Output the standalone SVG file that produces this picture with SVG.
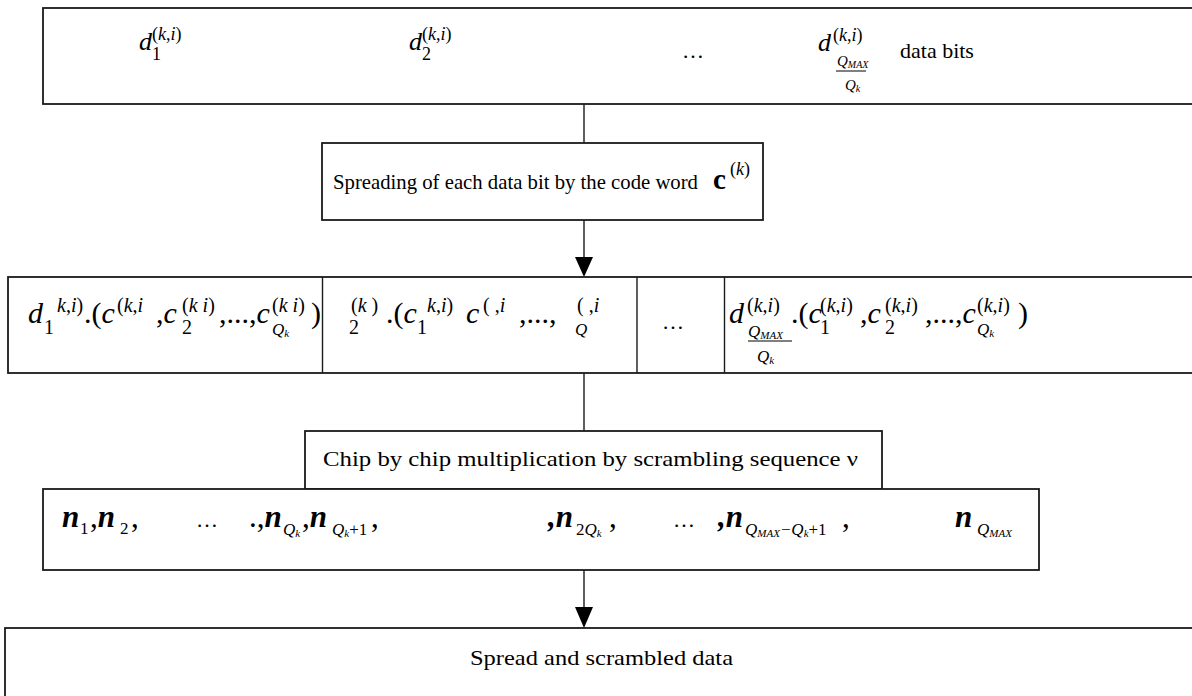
<svg xmlns="http://www.w3.org/2000/svg" width="1192" height="696" viewBox="0 0 1192 696">
<defs>
<style>
text { font-family: "Liberation Serif", "Times New Roman", serif; fill: #000; }
.box { fill: #fff; stroke: #1a1a1a; stroke-width: 1.8; }
.ln { stroke: #1a1a1a; stroke-width: 1.4; fill: none; }
.it { font-style: italic; }
.bi { font-style: italic; font-weight: bold; }
.t1 { font-size: 26px; }
.s1 { font-size: 18px; }
.s1q { font-size: 15px; }
.t3 { font-size: 30px; }
.s3 { font-size: 20px; }
.s3q { font-size: 17px; }
.s3k { font-size: 11px; }
.tn { font-size: 31px; }
.sn { font-size: 17px; }
.lab { font-size: 22px; }
.dots { font-size: 22px; }
</style>
</defs>

<g id="connectors">
<line class="ln" x1="584" y1="104" x2="584" y2="143"/>
<line class="ln" x1="584" y1="220" x2="584" y2="257"/>
<path d="M575,257 L593,257 L584,277 Z" fill="#000"/>
<line class="ln" x1="584" y1="373" x2="584" y2="431"/>
<line class="ln" x1="584" y1="570" x2="584" y2="608"/>
<path d="M575,607 L593,607 L584,628 Z" fill="#000"/>
</g>

<g id="data-bits">
<rect class="box" x="43" y="8" width="1160" height="96"/>
<text class="t1 it" x="139" y="50">d</text>
<text class="s1" x="152" y="60">1</text>
<text class="s1" x="152" y="40">(<tspan class="it">k</tspan>,<tspan class="it">i</tspan>)</text>
<text class="t1 it" x="409" y="50">d</text>
<text class="s1" x="422" y="60">2</text>
<text class="s1" x="422" y="40">(<tspan class="it">k</tspan>,<tspan class="it">i</tspan>)</text>
<text class="dots" x="682" y="58">…</text>
<text class="t1 it" x="818" y="51">d</text>
<text class="s1" x="833" y="41">(<tspan class="it">k</tspan>,<tspan class="it">i</tspan>)</text>
<text class="s1q it" x="837" y="66">Q<tspan font-size="10" dy="2">MAX</tspan></text>
<line x1="836" y1="71" x2="866" y2="71" stroke="#000" stroke-width="1"/>
<text class="s1q it" x="845" y="90">Q<tspan font-size="10" dy="2">k</tspan></text>
<text class="lab" x="900" y="58">data bits</text>
</g>

<g id="spreading">
<rect class="box" x="322" y="143" width="441" height="77"/>
<text x="333" y="189" font-size="21" textLength="365" lengthAdjust="spacingAndGlyphs">Spreading of each data bit by the code word</text>
<text x="713" y="189" font-size="29" font-weight="bold">c</text>
<text class="s1" x="730" y="175">(<tspan class="it">k</tspan>)</text>
</g>

<g id="spread-row">
<rect class="box" x="8" y="277" width="1190" height="96"/>
<line class="ln" x1="322.5" y1="277" x2="322.5" y2="373"/>
<line class="ln" x1="637" y1="277" x2="637" y2="373"/>
<line class="ln" x1="724.5" y1="277" x2="724.5" y2="373"/>
<!-- cell 1 -->
<text class="t3 it" x="28" y="323">d</text>
<text class="s3" x="44" y="334">1</text>
<text class="s3" x="57" y="312"><tspan class="it">k</tspan>,<tspan class="it">i</tspan>)</text>
<text class="t3" x="84" y="323">.(<tspan class="it">c</tspan></text>
<text class="s3" x="117" y="312">(<tspan class="it">k</tspan>,<tspan class="it">i</tspan></text>
<text class="t3" x="156" y="323">,<tspan class="it">c</tspan></text>
<text class="s3" x="182" y="334">2</text>
<text class="s3" x="182" y="312">(<tspan class="it">k</tspan> <tspan class="it">i</tspan>)</text>
<text class="t3" x="219" y="323">,...,<tspan class="it">c</tspan></text>
<text class="s3q it" x="272" y="335">Q<tspan class="s3k" dy="2">k</tspan></text>
<text class="s3" x="272" y="312">(<tspan class="it">k</tspan> <tspan class="it">i</tspan>)</text>
<text class="t3" x="311" y="323">)</text>
<!-- cell 2 -->
<text class="s3" x="349" y="334">2</text>
<text class="s3" x="351" y="312">(<tspan class="it">k</tspan>   )</text>
<text class="t3" x="386" y="323">.(<tspan class="it">c</tspan></text>
<text class="s3" x="417" y="334">1</text>
<text class="s3" x="427" y="312"><tspan class="it">k</tspan>,<tspan class="it">i</tspan>)</text>
<text class="t3 it" x="466" y="323">c</text>
<text class="s3" x="483" y="312">(  ,<tspan class="it">i</tspan></text>
<text class="t3" x="519" y="323">,...,</text>
<text class="s3" x="577" y="312">(  ,<tspan class="it">i</tspan></text>
<text class="s3q it" x="575" y="335">Q</text>
<!-- cell 3 -->
<text class="dots" x="662" y="329">…</text>
<!-- cell 4 -->
<text class="t3 it" x="729" y="323">d</text>
<text class="s3" x="747" y="312">(<tspan class="it">k</tspan>,<tspan class="it">i</tspan>)</text>
<text class="s3q it" x="748" y="337">Q<tspan font-size="11" dy="2">MAX</tspan></text>
<line x1="748" y1="341" x2="792" y2="341" stroke="#000" stroke-width="1"/>
<text class="s3q it" x="757" y="362">Q<tspan class="s3k" dy="2">k</tspan></text>
<text class="t3" x="791" y="323">.(<tspan class="it">c</tspan></text>
<text class="s3" x="820" y="334">1</text>
<text class="s3" x="820" y="312">(<tspan class="it">k</tspan>,<tspan class="it">i</tspan>)</text>
<text class="t3" x="860" y="323">,<tspan class="it">c</tspan></text>
<text class="s3" x="885" y="334">2</text>
<text class="s3" x="885" y="312">(<tspan class="it">k</tspan>,<tspan class="it">i</tspan>)</text>
<text class="t3" x="925" y="323">,...,<tspan class="it">c</tspan></text>
<text class="s3q it" x="977" y="335">Q<tspan class="s3k" dy="2">k</tspan></text>
<text class="s3" x="977" y="312">(<tspan class="it">k</tspan>,<tspan class="it">i</tspan>)</text>
<text class="t3" x="1018" y="323">)</text>
</g>

<g id="chip">
<rect class="box" x="305" y="431" width="577" height="58"/>
<text class="lab" x="323" y="466" font-size="24" textLength="535" lengthAdjust="spacingAndGlyphs">Chip by chip multiplication by scrambling sequence ν</text>
</g>

<g id="scrambling-seq">
<rect class="box" x="43" y="489" width="996" height="81"/>
<text class="tn bi" x="62" y="527">n</text>
<text class="sn" x="80" y="534">1</text>
<text class="tn" x="90" y="527">,<tspan class="bi">n</tspan></text>
<text class="sn" x="120" y="534">2</text>
<text class="tn" x="131" y="527">,</text>
<text class="dots" x="196" y="527">…</text>
<text class="tn" x="249" y="527">.,<tspan class="bi">n</tspan></text>
<text class="sn it" x="283" y="535">Q<tspan font-size="11" dy="2">k</tspan></text>
<text class="tn" x="302" y="527">,<tspan class="bi">n</tspan></text>
<text class="sn" x="332" y="535"><tspan class="it">Q</tspan><tspan font-size="11" class="it" dy="2">k</tspan><tspan dy="-2">+1</tspan></text>
<text class="tn" x="371" y="527">,</text>
<text class="tn bi" x="548" y="527">,n</text>
<text class="sn" x="576" y="535">2<tspan class="it">Q</tspan><tspan font-size="11" class="it" dy="2">k</tspan></text>
<text class="tn" x="609" y="527">,</text>
<text class="dots" x="673" y="527">…</text>
<text class="tn bi" x="718" y="527">,n</text>
<text class="sn it" x="745" y="535">Q<tspan font-size="11" dy="2">MAX</tspan><tspan dy="-2">−Q</tspan><tspan font-size="11" dy="2">k</tspan><tspan dy="-2" font-style="normal">+1</tspan></text>
<text class="tn" x="842" y="527">,</text>
<text class="tn bi" x="955" y="527">n</text>
<text class="sn it" x="977" y="535">Q<tspan font-size="11" dy="2">MAX</tspan></text>
</g>

<g id="output">
<rect class="box" x="5" y="628" width="1195" height="80"/>
<text class="lab" x="470" y="665" font-size="24" textLength="263" lengthAdjust="spacingAndGlyphs">Spread and scrambled data</text>
</g>
</svg>
